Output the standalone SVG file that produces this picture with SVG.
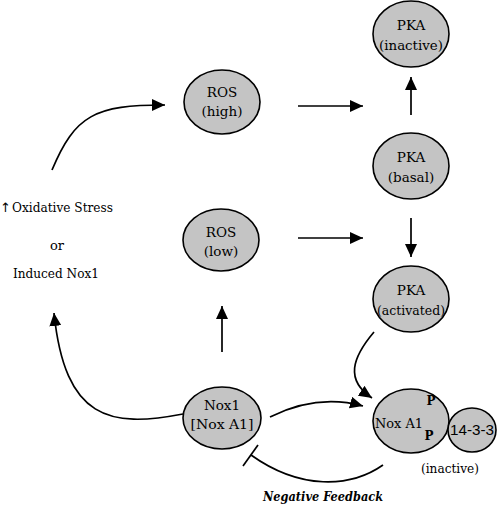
<svg xmlns="http://www.w3.org/2000/svg" width="497" height="508" viewBox="0 0 497 508">
<style>
.node{fill:#c4c4c4;stroke:#000;stroke-width:1.6}
.t{font-family:"DejaVu Serif","Liberation Serif",serif;font-size:13.5px;fill:#000;text-anchor:middle}
.lt{font-family:"DejaVu Serif","Liberation Serif",serif;font-size:13px;fill:#000}
.c{fill:none;stroke:#000;stroke-width:1.7}
</style>
<defs>
<marker id="ah" markerUnits="userSpaceOnUse" markerWidth="14" markerHeight="12" refX="13" refY="6" orient="auto">
<path d="M0,0 L13,6 L0,12 Z" fill="#000"/>
</marker>
</defs>
<rect width="497" height="508" fill="#fff"/>
<g id="connectors">
<path class="c" d="M52,170 C75,115 95,105 165,105" marker-end="url(#ah)"/>
<path class="c" d="M183,414 C110,428 65,420 54,313" marker-end="url(#ah)"/>
<path class="c" d="M222,352 L222,306" marker-end="url(#ah)"/>
<path class="c" d="M298,106 L363,106" marker-end="url(#ah)"/>
<path class="c" d="M298,238 L363,238" marker-end="url(#ah)"/>
<path class="c" d="M411,115 L411,77" marker-end="url(#ah)"/>
<path class="c" d="M411,218 L411,257" marker-end="url(#ah)"/>
<path class="c" d="M374,332 C352,358 345,380 372,398" marker-end="url(#ah)"/>
<path class="c" d="M270,417 C300,402 330,397 363,406" marker-end="url(#ah)"/>
<path class="c" d="M383,465 C350,488 300,490 251,455"/>
<path class="c" d="M243,466 L258,445"/>
</g>
<g id="ros-high">
<ellipse class="node" cx="222" cy="102" rx="38" ry="32"/>
<text class="t" x="222" y="97">ROS</text>
<text class="t" x="222" y="116">(high)</text>
</g>
<g id="ros-low">
<ellipse class="node" cx="221" cy="240" rx="38" ry="31"/>
<text class="t" x="221" y="237">ROS</text>
<text class="t" x="221" y="256">(low)</text>
</g>
<g id="pka-inactive">
<ellipse class="node" cx="411" cy="34" rx="38" ry="33"/>
<text class="t" x="411" y="30">PKA</text>
<text class="t" x="411" y="50" textLength="64" lengthAdjust="spacingAndGlyphs">(inactive)</text>
</g>
<g id="pka-basal">
<ellipse class="node" cx="411" cy="166" rx="38" ry="33"/>
<text class="t" x="411" y="162">PKA</text>
<text class="t" x="411" y="182">(basal)</text>
</g>
<g id="pka-activated">
<ellipse class="node" cx="411" cy="299" rx="38" ry="33"/>
<text class="t" x="411" y="295">PKA</text>
<text class="t" x="411" y="315" textLength="68" lengthAdjust="spacingAndGlyphs">(activated)</text>
</g>
<g id="nox1">
<ellipse class="node" cx="222" cy="418" rx="39" ry="31"/>
<text class="t" x="222" y="410">Nox1</text>
<text class="t" x="222" y="429" textLength="63" lengthAdjust="spacingAndGlyphs">[Nox A1]</text>
</g>
<g id="noxa1">
<ellipse class="node" cx="411" cy="421" rx="38" ry="32"/>
<text class="t" x="375" y="428" style="text-anchor:start" textLength="48" lengthAdjust="spacingAndGlyphs">Nox A1</text>
<text class="t" x="431" y="405" style="font-weight:bold;font-size:12px">P</text>
<text class="t" x="429" y="440" style="font-weight:bold;font-size:12px">P</text>
</g>
<g id="p1433">
<ellipse class="node" cx="472" cy="430" rx="24" ry="22"/>
<text x="472" y="435" style="font-family:'Liberation Sans',Arial,sans-serif;font-size:14px;text-anchor:middle" textLength="44" lengthAdjust="spacingAndGlyphs">14-3-3</text>
</g>
<g id="labels">
<text class="t" x="450" y="473" textLength="58" lengthAdjust="spacingAndGlyphs">(inactive)</text>
<text class="lt" x="0" y="212"><tspan style="font-family:'DejaVu Sans',sans-serif">↑</tspan><tspan x="12" textLength="101" lengthAdjust="spacingAndGlyphs">Oxidative Stress</tspan></text>
<text class="lt" x="57" y="250" style="text-anchor:middle">or</text>
<text class="lt" x="13" y="278" textLength="86" lengthAdjust="spacingAndGlyphs">Induced Nox1</text>
<text x="323" y="501" style="font-family:'DejaVu Serif','Liberation Serif',serif;font-size:13px;font-style:italic;font-weight:bold;text-anchor:middle" textLength="120" lengthAdjust="spacingAndGlyphs">Negative Feedback</text>
</g>
</svg>
